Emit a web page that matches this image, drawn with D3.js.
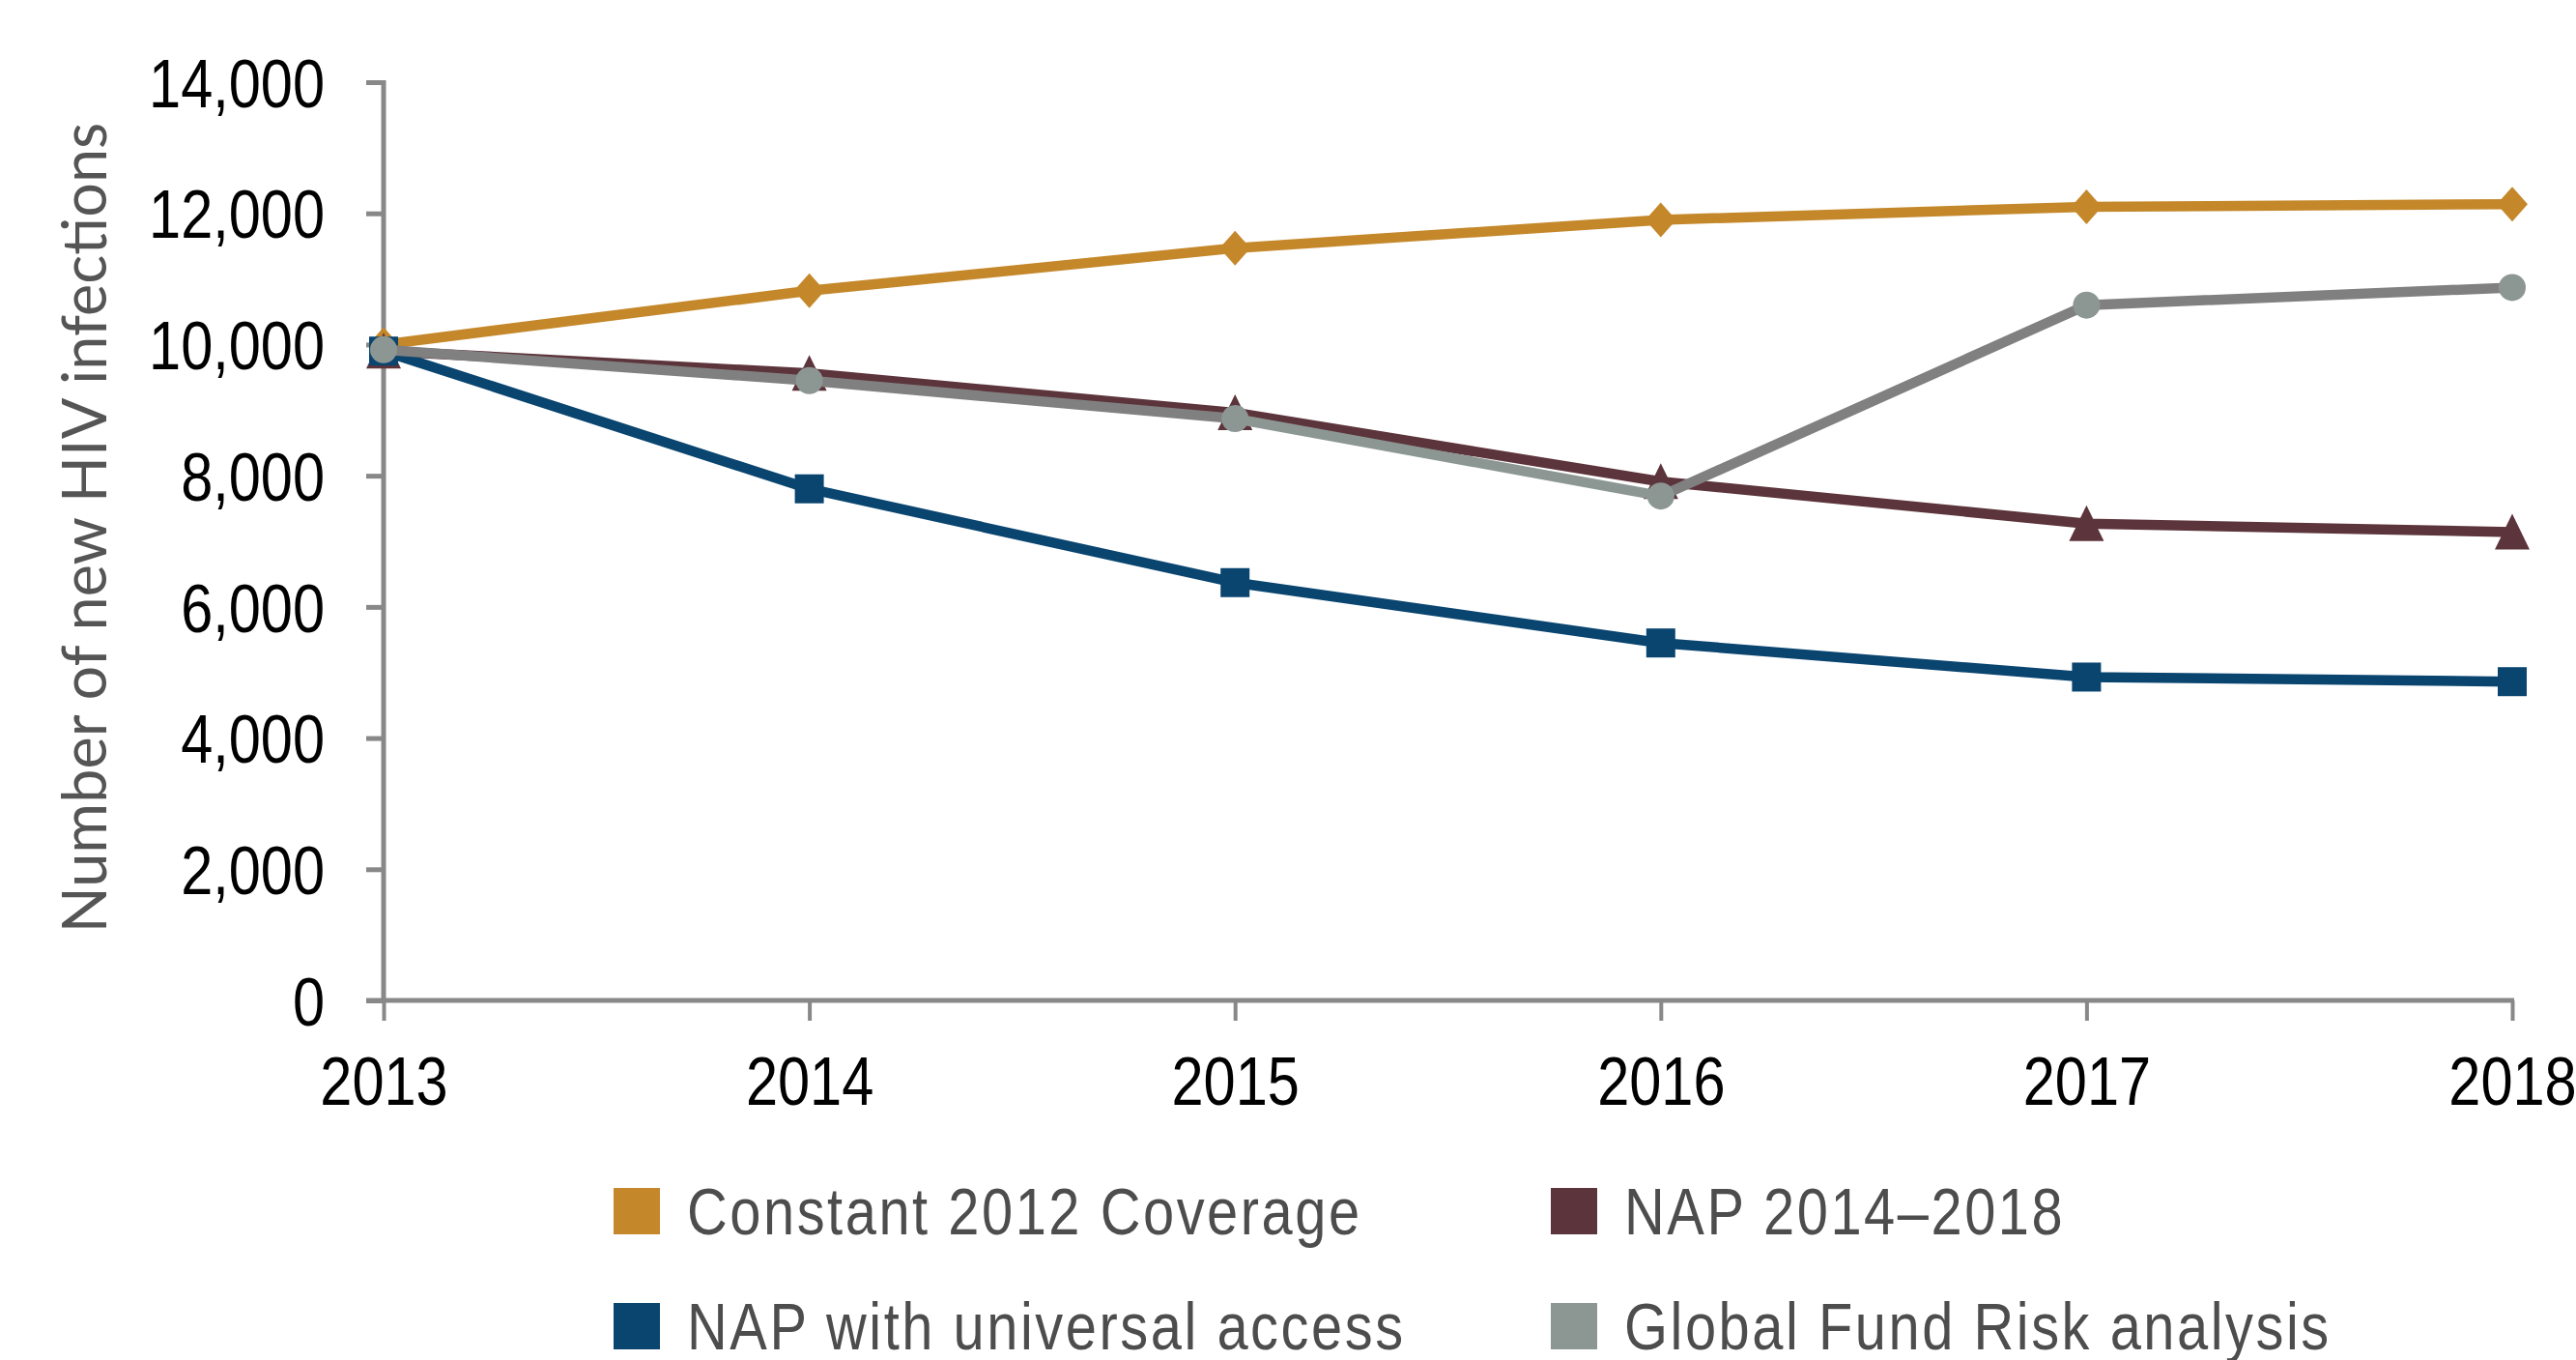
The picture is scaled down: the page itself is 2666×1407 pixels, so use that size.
<!DOCTYPE html>
<html>
<head>
<meta charset="utf-8">
<script src="https://cdn.jsdelivr.net/npm/d3@7"></script>
<style>
    body { margin: 0; background: #fff; }
    svg { display: block; }
</style>
</head>
<body>
<svg id="chart" width="2666" height="1407"></svg>
<script>
// data
var years = [2013, 2014, 2015, 2016, 2017, 2018];
var constantCoverage = [10000, 10820, 11470, 11900, 12100, 12140];
var nap20142018 = [9900, 9560, 8960, 7910, 7270, 7140];
var napUniversal = [9900, 7800, 6370, 5450, 4930, 4860];
var globalFundRisk = [9920, 9450, 8870, 7690, 10600, 10870];
var yTicks = [0, 2000, 4000, 6000, 8000, 10000, 12000, 14000];
var seriesNames = ["Constant 2012 Coverage", "NAP 2014\u20132018", "NAP with universal access", "Global Fund Risk analysis"];

var cfg = {
    left: 397,
    right: 2600,
    top: 85,
    bottom: 1035,
    axisColor: "#888888",
    lineWidth: 10.5,
    font: "'Liberation Sans', Arial, sans-serif",
    squeeze: 0.85   // narrow the sans glyphs a bit, the original face is condensed
};

// custom marker shapes for d3.symbol
var diamond = {
    draw: function (ctx, size) {
        var w = 16, h = 18;
        ctx.moveTo(0, -h); ctx.lineTo(w, 0); ctx.lineTo(0, h); ctx.lineTo(-w, 0); ctx.closePath();
    }
};
var triangle = {
    draw: function (ctx, size) {
        ctx.moveTo(0, -19); ctx.lineTo(18, 18); ctx.lineTo(-18, 18); ctx.closePath();
    }
};
var square = {
    draw: function (ctx, size) {
        ctx.rect(-15, -15, 30, 30);
    }
};
var circle = {
    draw: function (ctx, size) {
        ctx.moveTo(14, 0); ctx.arc(0, 0, 14, 0, 2 * Math.PI);
    }
};

var series = [
    {name: seriesNames[0], values: constantCoverage, line: "#C4882B", marker: "#C4882B", swatch: "#C4882B", shape: diamond},
    {name: seriesNames[1], values: nap20142018, line: "#5C343B", marker: "#5C343B", swatch: "#5C343B", shape: triangle},
    {name: seriesNames[2], values: napUniversal, line: "#0A4570", marker: "#0A4570", swatch: "#0A4570", shape: square},
    {name: seriesNames[3], values: globalFundRisk, line: "#808080", marker: "#8C9794", swatch: "#8C9794", shape: circle,
        segColors: ["#808080", "#808080", "#8C9794", "#808080", "#808080"]}
];

var svg = d3.select("#chart");

var x = d3.scalePoint()
    .domain(years)
    .range([cfg.left, cfg.right]);

var y = d3.scaleLinear()
    .domain([0, 14000])
    .range([cfg.bottom, cfg.top]);

// y axis
var yAxis = svg.append("g")
    .attr("transform", "translate(" + cfg.left + ",0)")
    .call(d3.axisLeft(y).tickValues(yTicks).tickSize(18).tickSizeOuter(0).tickPadding(42)
        .tickFormat(d3.format(",")));
yAxis.select(".domain").attr("stroke", cfg.axisColor).attr("stroke-width", 5)
    .attr("d", "M0," + (cfg.top - 2) + "V" + cfg.bottom);
yAxis.selectAll(".tick line").attr("stroke", cfg.axisColor).attr("stroke-width", 5);
yAxis.selectAll(".tick text")
    .attr("fill", "#000")
    .attr("x", -61 / cfg.squeeze)
    .attr("transform", "scale(" + cfg.squeeze + ",1)")
    .style("font-family", cfg.font)
    .style("font-size", "70px")
    .attr("dy", "0.36em");

// x axis
var xAxis = svg.append("g")
    .attr("transform", "translate(0," + cfg.bottom + ")")
    .call(d3.axisBottom(x).tickSize(21).tickSizeOuter(0).tickPadding(37));
xAxis.select(".domain").attr("stroke", cfg.axisColor).attr("stroke-width", 5)
    .attr("d", "M" + (cfg.left - 18) + ",0H" + (cfg.right + 2));
xAxis.selectAll(".tick line").attr("stroke", cfg.axisColor).attr("stroke-width", 4);
xAxis.selectAll(".tick text")
    .attr("fill", "#000")
    .attr("transform", "scale(" + cfg.squeeze + ",1)")
    .style("font-family", cfg.font)
    .style("font-size", "70px")
    .attr("dy", "0.71em");

// axis title
svg.append("text")
    .attr("transform", "translate(110,546) rotate(-90)")
    .attr("text-anchor", "middle")
    .attr("fill", "#555555")
    .style("font-family", "Lato, 'Noto Sans', sans-serif")
    .style("font-size", "63px")
    .text("Number of new HIV infections");

// lines + markers
var line = d3.line()
    .x(function (d) { return x(d[0]); })
    .y(function (d) { return y(d[1]); });

series.forEach(function (s) {
    var pts = s.values.map(function (v, i) { return [years[i], v]; });
    var g = svg.append("g").attr("class", "series");
    if (s.segColors) {
        g.selectAll("path.seg")
            .data(d3.range(pts.length - 1))
            .enter()
            .append("path")
            .attr("class", "seg")
            .attr("d", function (i) { return line(pts.slice(i, i + 2)); })
            .attr("fill", "none")
            .attr("stroke", function (i) { return s.segColors[i]; })
            .attr("stroke-width", cfg.lineWidth)
            .attr("stroke-linecap", "round");
    } else {
        g.append("path")
            .attr("d", line(pts))
            .attr("fill", "none")
            .attr("stroke", s.line)
            .attr("stroke-width", cfg.lineWidth)
            .attr("stroke-linejoin", "round");
    }
    g.selectAll("path.marker")
        .data(pts)
        .enter()
        .append("path")
        .attr("class", "marker")
        .attr("d", d3.symbol().type(s.shape))
        .attr("transform", function (d) { return "translate(" + x(d[0]) + "," + y(d[1]) + ")"; })
        .attr("fill", s.marker);
});

// legend
var legendPos = [
    {x: 635, y: 1229},
    {x: 1605, y: 1229},
    {x: 635, y: 1348},
    {x: 1605, y: 1348}
];
var legend = svg.append("g")
    .selectAll("g")
    .data(series)
    .enter()
    .append("g")
    .attr("transform", function (d, i) { return "translate(" + legendPos[i].x + "," + legendPos[i].y + ")"; });

legend.append("rect")
    .attr("width", 48)
    .attr("height", 48)
    .attr("fill", function (d) { return d.swatch; });

legend.append("text")
    .attr("transform", "translate(76,48) scale(" + cfg.squeeze + ",1)")
    .attr("fill", "#4D4D4D")
    .style("font-family", cfg.font)
    .style("font-size", "68px")
    .style("letter-spacing", "3px")
    .text(function (d) { return d.name; });
</script>
</body>
</html>
